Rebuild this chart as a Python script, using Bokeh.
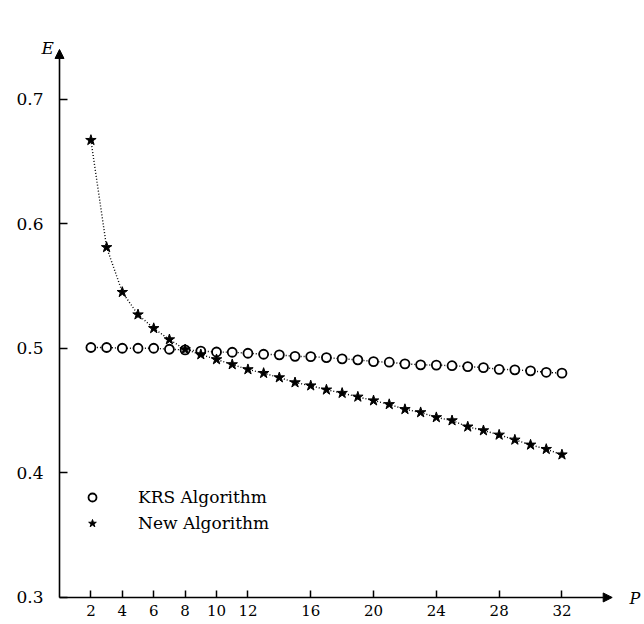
from bokeh.plotting import figure
from bokeh.models import (Arrow, NormalHead, Label, Legend, LegendItem,
                          FixedTicker, Range1d)
from bokeh.embed import file_html
from bokeh.resources import INLINE

# ---- data ----
P = list(range(2, 33))
krs = [0.5006, 0.5006, 0.5000, 0.5000, 0.5000, 0.4992, 0.4987, 0.4977,
       0.4970, 0.4968, 0.4960, 0.4952, 0.4947, 0.4935, 0.4933, 0.4925,
       0.4915, 0.4907, 0.4893, 0.4888, 0.4875, 0.4867, 0.4865, 0.4860,
       0.4853, 0.4845, 0.4831, 0.4827, 0.4819, 0.4807, 0.4800]
new = [0.667, 0.581, 0.545, 0.527, 0.516, 0.507, 0.499, 0.495,
       0.491, 0.487, 0.483, 0.480, 0.4765, 0.4725, 0.470, 0.4667,
       0.464, 0.461, 0.458, 0.455, 0.451, 0.4485, 0.4445, 0.442,
       0.437, 0.434, 0.4305, 0.4265, 0.4225, 0.419, 0.4146]
x_ticks = [2, 4, 6, 8, 10, 12, 16, 20, 24, 28, 32]
y_ticks = [0.3, 0.4, 0.5, 0.6, 0.7]
series_labels = ["KRS Algorithm", "New Algorithm"]

FONT = "DejaVu Serif"

W, H = 642, 622
# frame covers the whole canvas; axes are drawn at fixed data locations
p = figure(width=W, height=H, output_backend="svg", toolbar_location=None,
           x_range=Range1d(-3.758, 37.13), y_range=Range1d(0.2799, 0.7791),
           min_border=0, min_border_left=0, min_border_right=0,
           min_border_top=0, min_border_bottom=0)
p.grid.visible = False
p.outline_line_color = None
p.background_fill_color = "white"
p.border_fill_color = "white"

for ax in (p.xaxis[0], p.yaxis[0]):
    ax.axis_line_color = None
    ax.major_tick_out = 0
    ax.minor_tick_line_color = None
    ax.major_tick_line_color = "black"
    ax.major_tick_line_width = 1.5
    ax.major_label_text_font = FONT
    ax.major_label_text_color = "black"

p.xaxis.fixed_location = 0.3
p.xaxis.ticker = FixedTicker(ticks=x_ticks, minor_ticks=[])
p.xaxis.major_tick_in = 7
p.xaxis.major_label_standoff = 8
p.xaxis.major_label_text_font_size = "15px"

p.yaxis.fixed_location = 0
p.yaxis.ticker = FixedTicker(ticks=y_ticks, minor_ticks=[])
p.yaxis.major_tick_in = 8
p.yaxis.major_label_standoff = 16
p.yaxis.major_label_text_font_size = "17px"

# axis arrows
p.add_layout(Arrow(end=NormalHead(size=9, fill_color="black", line_color="black"),
                   x_start=0, y_start=0.3, x_end=0, y_end=0.7398,
                   line_width=1.6, line_color="black"))
p.add_layout(Arrow(end=NormalHead(size=9, fill_color="black", line_color="black"),
                   x_start=0, y_start=0.3, x_end=35.2, y_end=0.3,
                   line_width=1.6, line_color="black"))

# series
p.line(P, krs, line_dash="1 2", line_width=1.4, line_color="black")
r1 = p.scatter(P, krs, marker="circle", size=9, fill_color="white",
               line_color="black", line_width=1.8)
p.line(P, new, line_dash="1 2", line_width=1.4, line_color="black")
r2 = p.scatter(P, new, marker="star", size=11, fill_color="black",
               line_color="black")

legend = Legend(items=[LegendItem(label=series_labels[0], renderers=[r1]),
                       LegendItem(label=series_labels[1], renderers=[r2])],
                location=(82, 89), padding=0, margin=0,
                border_line_alpha=0, background_fill_alpha=0,
                label_standoff=36, glyph_width=20, glyph_height=20,
                label_height=20, spacing=6,
                label_text_font=FONT, label_text_font_size="17px",
                label_text_color="black")
p.add_layout(legend)

p.add_layout(Label(x=-0.75, y=0.7406, text="E", text_font=FONT,
                   text_font_style="italic", text_font_size="17px",
                   text_color="black",
                   text_align="center", text_baseline="middle"))
p.add_layout(Label(x=36.3, y=0.2992, text="P", text_font=FONT,
                   text_font_style="italic", text_font_size="16px",
                   text_color="black",
                   text_align="left", text_baseline="middle"))

open("out.html", "w").write(file_html(p, INLINE))
